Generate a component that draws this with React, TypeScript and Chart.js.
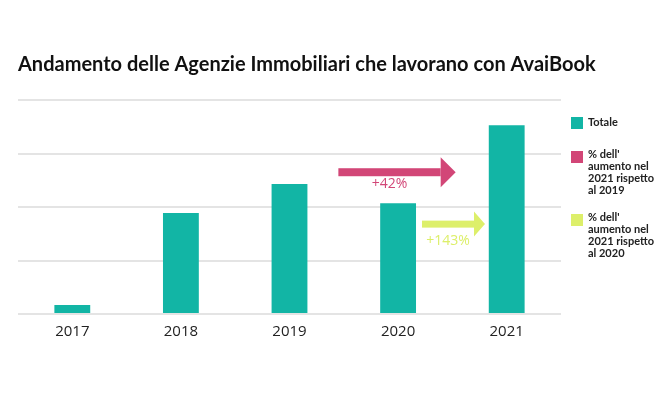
import React, { useEffect, useRef } from "react";
import { Chart, registerables } from "chart.js";

Chart.register(...registerables);

const TITLE = "Andamento delle Agenzie Immobiliari che lavorano con AvaiBook";
const categories = ["2017", "2018", "2019", "2020", "2021"];
const totale = [17, 189, 243, 207, 353];
const legendItems = [
  { color: "#12B5A5", lines: ["Totale"] },
  { color: "#D24677", lines: ["% dell'", "aumento nel", "2021 rispetto", "al 2019"] },
  { color: "#DDEF6A", lines: ["% dell'", "aumento nel", "2021 rispetto", "al 2020"] },
];
const arrowNotes = [
  { text: "+42%", color: "#D24677", value: 265, from: 2.45, to: 3.53, thick: 8, head: 30, headLen: 15, dy: 12 },
  { text: "+143%", color: "#DDEF6A", value: 168, from: 3.22, to: 3.8, thick: 7, head: 25, headLen: 11, dy: 17 },
];

const overlay = {
  id: "overlay",
  afterDraw(chart: any) {
    const ctx = chart.ctx;
    const x = chart.scales.x;
    const y = chart.scales.y;
    ctx.save();
    // title
    ctx.fillStyle = "#111";
    ctx.font = "700 20px Lato";
    ctx.textBaseline = "middle";
    ctx.textAlign = "left";
    ctx.fillText(TITLE, 18, 65);

    // arrows
    const step = x.getPixelForValue(1) - x.getPixelForValue(0);
    const x0 = x.getPixelForValue(0);
    arrowNotes.forEach((a) => {
      const xs = x0 + a.from * step;
      const xe = x0 + a.to * step;
      const yc = y.getPixelForValue(a.value);
      ctx.fillStyle = a.color;
      ctx.fillRect(xs, yc - a.thick / 2, xe - a.headLen - xs, a.thick);
      ctx.beginPath();
      ctx.moveTo(xe - a.headLen, yc - a.head / 2);
      ctx.lineTo(xe, yc);
      ctx.lineTo(xe - a.headLen, yc + a.head / 2);
      ctx.closePath();
      ctx.fill();
      ctx.font = "14px 'Open Sans'";
      ctx.textAlign = "center";
      ctx.fillText(a.text, (xs + xe - a.headLen) / 2, yc + a.dy);
    });

    // legend
    const lx = chart.chartArea.right + 10;
    let ly = 117;
    ctx.textAlign = "left";
    ctx.font = "700 11px Lato";
    legendItems.forEach((it, i) => {
      ctx.fillStyle = it.color;
      ctx.fillRect(lx, ly, 12, 12);
      ctx.fillStyle = "#222";
      it.lines.forEach((l, j) => {
        ctx.fillText(l, lx + 17, ly + (i === 0 ? 5 : 3) + j * 12);
      });
      ly += i === 0 ? 34 : 63;
    });
    ctx.restore();
  },
};

export default function App() {
  const ref = useRef<HTMLCanvasElement>(null);
  useEffect(() => {
    document.body.style.margin = "0";
    const chart = new Chart(ref.current!, {
      type: "bar",
      data: {
        labels: categories,
        datasets: [
          {
            label: "Totale",
            data: totale,
            backgroundColor: "#12B5A5",
            categoryPercentage: 1,
            barPercentage: 0.33,
          },
        ],
      },
      options: {
        animation: false,
        responsive: false,
        layout: { padding: { left: 18, right: 99, top: 100, bottom: 0 } },
        plugins: { legend: { display: false }, title: { display: false }, tooltip: { enabled: false } },
        scales: {
          x: {
            grid: { display: false, drawTicks: false },
            border: { display: false },
            ticks: { color: "#222", font: { family: "'Open Sans'", size: 15 }, padding: 9 },
            afterFit: (s: any) => { s.height = 87; },
          },
          y: {
            min: 0,
            max: 400,
            ticks: { display: false, stepSize: 100 },
            grid: { color: "#e4e4e4", lineWidth: 2, drawTicks: false },
            border: { display: false },
            afterFit: (s: any) => { s.width = 0; },
          },
        },
      },
      plugins: [overlay],
    });
    return () => chart.destroy();
  }, []);
  return (
    <div style={{ width: 660, height: 401, background: "#fff" }}>
      <canvas ref={ref} width={660} height={401} />
    </div>
  );
}
